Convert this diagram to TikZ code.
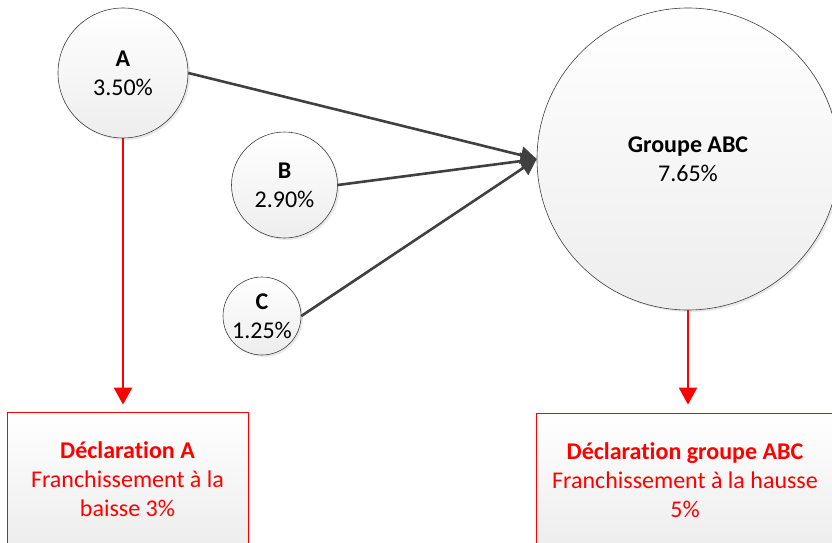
\documentclass[tikz,border=0pt]{standalone}
\usepackage{fontspec}
\setmainfont{Carlito}[Ligatures=NoCommon]
\usepackage{tikz}
\usetikzlibrary{arrows.meta}
\usetikzlibrary{shadows}
\definecolor{ffqqqq}{rgb}{1.,0.,0.}
\definecolor{sqsqsq}{rgb}{0.25,0.25,0.25}
\tikzstyle{every node}=[font=\fontsize{24}{29}\selectfont]
\tikzset{
  part/.style={circle,draw=black!75,line width=0.6pt,inner sep=0pt,align=center,
    top color=white,bottom color=black!7,
    drop shadow={shadow xshift=2pt,shadow yshift=-2pt,opacity=0.18}},
  decl/.style={rectangle,draw=ffqqqq,line width=0.8pt,align=center,text=ffqqqq,
    inner sep=0pt,top color=white,bottom color=black!7,
    drop shadow={shadow xshift=2pt,shadow yshift=-2pt,opacity=0.18}},
  link/.style={-{Triangle[length=16pt,width=17pt]},line width=2.6pt,color=sqsqsq},
  seuil/.style={-{Triangle[length=17pt,width=18pt]},line width=2.4pt,color=ffqqqq}
}

\begin{document}
\begin{tikzpicture}[line join=round,x=1pt,y=-1pt]
            \useasboundingbox (0,0) rectangle (832,543);
            \clip (0,0) rectangle (832,543);
            % participations
            \node [part,minimum size=130pt] (A) at (123,73) {\textbf{A}\\3.50\%};
            \node [part,minimum size=106pt] (B) at (284.5,185) {\textbf{B}\\2.90\%};
            \node [part,minimum size=78pt] (C) at (262,316) {\textbf{C}\\1.25\%};
            \node [part,minimum size=302pt] (ABC) at (688,159) {\textbf{Groupe ABC}\\7.65\%};
            % declarations
            \node [decl,minimum width=241pt,minimum height=134pt] (declA) at (127.5,479) {\textbf{Déclaration A}\\Franchissement à la\\baisse 3\%};
            \node [decl,minimum width=298pt,minimum height=134pt] (declABC) at (685,480) {\textbf{Déclaration groupe ABC}\\Franchissement à la hausse\\5\%};

            \draw [link] (A.east) -- (ABC.west);
            \draw [link] (B.east) -- (ABC.west);
            \draw [link] (C.east) -- (ABC.west);
            \draw [seuil,shorten >=7pt] (A.south) -- (A.south |- declA.north);
            \draw [seuil,shorten >=8pt] (ABC.south) -- (ABC.south |- declABC.north);
\end{tikzpicture}
\end{document}
